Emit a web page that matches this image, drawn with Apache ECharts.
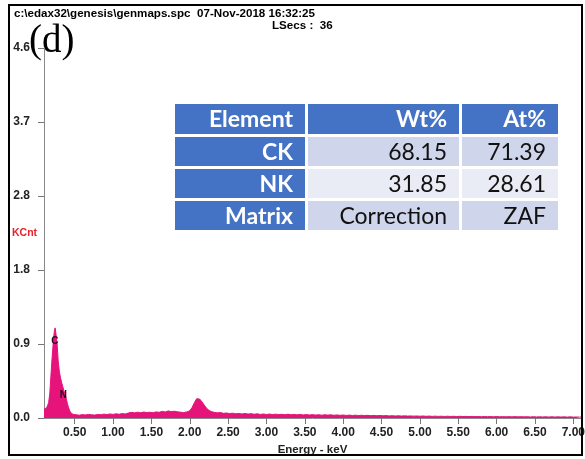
<!DOCTYPE html>
<html>
<head>
<meta charset="utf-8">
<script src="https://cdn.jsdelivr.net/npm/echarts@6/dist/echarts.min.js"></script>
<style>
  html, body { margin: 0; padding: 0; background: #fff; }
  #chart { width: 585px; height: 459px; }
</style>
</head>
<body>
<div id="chart"></div>
<script>
// EDS spectrum: [energy keV, counts kCnt]
const spectrum = [
  [0.100, 0.11], [0.115, 0.12], [0.130, 0.12], [0.145, 0.15], [0.160, 0.19],
  [0.175, 0.30], [0.190, 0.52], [0.205, 0.74], [0.220, 0.93], [0.235, 1.08],
  [0.245, 1.12], [0.255, 1.05], [0.270, 0.93], [0.285, 0.71], [0.300, 0.58],
  [0.315, 0.50], [0.330, 0.44], [0.345, 0.39], [0.360, 0.34], [0.375, 0.29],
  [0.390, 0.24], [0.405, 0.18], [0.420, 0.13], [0.435, 0.09], [0.450, 0.065],
  [0.465, 0.050], [0.480, 0.045], [0.500, 0.040],
  [0.52, 0.040], [0.56, 0.035], [0.60, 0.042], [0.64, 0.038], [0.68, 0.045],
  [0.72, 0.040], [0.76, 0.036], [0.80, 0.044], [0.84, 0.041], [0.88, 0.048],
  [0.92, 0.043], [0.96, 0.050], [1.00, 0.045], [1.04, 0.052], [1.08, 0.047],
  [1.12, 0.055], [1.16, 0.050], [1.20, 0.062], [1.24, 0.070], [1.28, 0.064],
  [1.32, 0.072], [1.36, 0.066], [1.40, 0.074], [1.44, 0.068], [1.48, 0.071],
  [1.52, 0.065], [1.56, 0.076], [1.60, 0.070], [1.64, 0.082], [1.68, 0.075],
  [1.72, 0.088], [1.76, 0.080], [1.80, 0.084], [1.84, 0.077], [1.88, 0.072],
  [1.92, 0.068], [1.96, 0.075], [2.00, 0.090], [2.03, 0.130], [2.06, 0.190],
  [2.09, 0.240], [2.11, 0.260], [2.13, 0.235], [2.16, 0.200], [2.19, 0.160],
  [2.22, 0.120], [2.25, 0.095], [2.28, 0.080], [2.32, 0.070], [2.36, 0.064],
  [2.40, 0.068], [2.44, 0.058], [2.48, 0.062], [2.52, 0.055], [2.56, 0.060],
  [2.60, 0.052], [2.64, 0.057], [2.68, 0.050], [2.72, 0.056], [2.76, 0.049],
  [2.80, 0.054], [2.84, 0.047], [2.88, 0.052], [2.92, 0.045], [2.96, 0.050],
  [3.00, 0.044], [3.04, 0.049], [3.08, 0.043], [3.12, 0.048], [3.16, 0.042],
  [3.20, 0.046], [3.24, 0.041], [3.28, 0.047], [3.32, 0.040], [3.36, 0.044],
  [3.40, 0.039], [3.44, 0.045], [3.48, 0.038], [3.52, 0.043], [3.56, 0.037],
  [3.60, 0.042], [3.64, 0.036], [3.68, 0.041], [3.72, 0.035], [3.76, 0.040],
  [3.80, 0.036], [3.84, 0.039], [3.88, 0.034], [3.92, 0.038], [3.96, 0.033],
  [4.00, 0.037], [4.04, 0.032], [4.08, 0.036], [4.12, 0.031], [4.16, 0.035],
  [4.20, 0.030], [4.24, 0.034], [4.28, 0.030], [4.32, 0.033], [4.36, 0.029],
  [4.40, 0.032], [4.44, 0.028], [4.48, 0.031], [4.52, 0.027], [4.56, 0.030],
  [4.60, 0.026], [4.64, 0.029], [4.68, 0.025], [4.72, 0.028], [4.76, 0.024],
  [4.80, 0.027], [4.84, 0.024], [4.88, 0.026], [4.92, 0.023], [4.96, 0.025],
  [5.00, 0.022], [5.04, 0.025], [5.08, 0.021], [5.12, 0.024], [5.16, 0.020],
  [5.20, 0.023], [5.24, 0.020], [5.28, 0.022], [5.32, 0.019], [5.36, 0.022],
  [5.40, 0.019], [5.44, 0.021], [5.48, 0.018], [5.52, 0.021], [5.56, 0.018],
  [5.60, 0.020], [5.64, 0.017], [5.68, 0.020], [5.72, 0.017], [5.76, 0.019],
  [5.80, 0.016], [5.84, 0.019], [5.88, 0.016], [5.92, 0.018], [5.96, 0.015],
  [6.00, 0.018], [6.04, 0.015], [6.08, 0.017], [6.12, 0.015], [6.16, 0.017],
  [6.20, 0.014], [6.24, 0.017], [6.28, 0.014], [6.32, 0.016], [6.36, 0.014],
  [6.40, 0.016], [6.44, 0.013], [6.48, 0.016], [6.52, 0.013], [6.56, 0.015],
  [6.60, 0.013], [6.64, 0.015], [6.68, 0.012], [6.72, 0.015], [6.76, 0.012],
  [6.80, 0.014], [6.84, 0.012], [6.88, 0.014], [6.92, 0.011], [6.96, 0.014],
  [7.00, 0.011], [7.04, 0.013], [7.08, 0.011], [7.10, 0.012]
];

// element line markers
const peakMarks = [
  { name: 'C', coord: [0.243, 0.95] },
  { name: 'N', coord: [0.354, 0.28] }
];

// axis ticks
const energyTicks = [0.5, 1.0, 1.5, 2.0, 2.5, 3.0, 3.5, 4.0, 4.5, 5.0, 5.5, 6.0, 6.5, 7.0];
const countMax = 4.6;
const countStep = 0.92;

// header texts
const headerLine = 'c:\\edax32\\genesis\\genmaps.spc  07-Nov-2018 16:32:25';
const liveTime = 'LSecs :  36';
const panelTag = '(d)';

// quantification table
const tableHeader = ['Element', 'Wt%', 'At%'];
const tableRows = [
  ['CK', '68.15', '71.39'],
  ['NK', '31.85', '28.61'],
  ['Matrix', 'Correction', 'ZAF']
];

const pink = '#E5137A';
const blue = '#4472C4';
const rowFill = ['#CFD5EA', '#E9EBF5', '#CFD5EA'];

// table geometry
const colX = [175, 308, 462];
const colW = [130, 151, 96];
const rowY = [104, 137, 169, 201];
const rowH = [30, 29, 29, 29];

const graphics = [];
graphics.push({
  type: 'rect', shape: { x: 9, y: 5, width: 573, height: 450 },
  style: { fill: 'none', stroke: '#000', lineWidth: 2 }, z: 10
});
graphics.push({
  type: 'text', x: 14, y: 14,
  style: { text: headerLine, font: 'bold 11.6px "Liberation Sans", Arial', fill: '#000', verticalAlign: 'middle' }
});
graphics.push({
  type: 'text', x: 272, y: 26,
  style: { text: liveTime, font: 'bold 11.6px "Liberation Sans", Arial', fill: '#000', verticalAlign: 'middle' }
});
graphics.push({
  type: 'text', x: 29, y: 42,
  style: { text: panelTag, font: '39px "Liberation Serif", "Times New Roman", serif', fill: '#000', verticalAlign: 'middle' }
});
graphics.push({
  type: 'text', x: 12, y: 233,
  style: { text: 'KCnt', font: 'bold 10.5px "Liberation Sans", Arial', fill: '#E8202A', verticalAlign: 'middle' }
});

function cell(c, r, text, fill, color, weight) {
  graphics.push({
    type: 'rect', shape: { x: colX[c], y: rowY[r], width: colW[c], height: rowH[r] },
    style: { fill: fill }
  });
  graphics.push({
    type: 'text', x: colX[c] + colW[c] - 12, y: rowY[r] + rowH[r] / 2 + 1,
    style: {
      text: text, fill: color, align: 'right', verticalAlign: 'middle',
      font: weight + ' 23px Lato, "Open Sans", sans-serif'
    }
  });
}
tableHeader.forEach((t, c) => cell(c, 0, t, blue, '#fff', 'bold'));
tableRows.forEach((row, r) => {
  row.forEach((t, c) => {
    if (c === 0) cell(c, r + 1, t, blue, '#fff', 'bold');
    else cell(c, r + 1, t, rowFill[r], '#111', 'normal');
  });
});

const chart = echarts.init(document.getElementById('chart'), null, { renderer: 'canvas' });
chart.setOption({
  animation: false,
  backgroundColor: '#fff',
  grid: { left: 44, right: 4, top: 48, bottom: 41, containLabel: false, outerBoundsMode: 'none' },
  xAxis: {
    type: 'value', min: 0.1, max: 7.1,
    name: 'Energy - keV', nameLocation: 'middle', nameGap: 20,
    nameTextStyle: { fontFamily: '"Liberation Sans", Arial', fontWeight: 'bold', fontSize: 11.5, color: '#222' },
    splitLine: { show: false },
    axisLine: { lineStyle: { color: '#8a8a8a', width: 1 } },
    axisTick: { show: true, length: 6, customValues: energyTicks, lineStyle: { color: '#777' } },
    axisLabel: {
      customValues: energyTicks, margin: 9,
      formatter: v => v.toFixed(2),
      fontFamily: '"Liberation Sans", Arial', fontWeight: 'bold', fontSize: 12, color: '#222'
    }
  },
  yAxis: {
    type: 'value', min: 0, max: countMax, interval: countStep,
    splitLine: { show: false },
    axisLine: { show: true, lineStyle: { color: '#8a8a8a', width: 1 } },
    axisTick: { show: true, length: 6, lineStyle: { color: '#777' } },
    axisLabel: {
      margin: 14, formatter: v => v.toFixed(1),
      fontFamily: '"Liberation Sans", Arial', fontWeight: 'bold', fontSize: 12, color: '#222'
    }
  },
  series: [{
    type: 'line',
    data: spectrum,
    symbol: 'none',
    lineStyle: { color: pink, width: 1 },
    areaStyle: { color: pink, opacity: 1 },
    markPoint: {
      symbol: 'circle', symbolSize: 1,
      itemStyle: { color: 'rgba(0,0,0,0)' },
      label: {
        show: true, position: 'inside', formatter: p => p.name,
        fontFamily: '"Liberation Sans", Arial', fontWeight: 'bold', fontSize: 10, color: '#2a0a1a'
      },
      data: peakMarks
    }
  }],
  graphic: graphics
});
</script>
</body>
</html>
